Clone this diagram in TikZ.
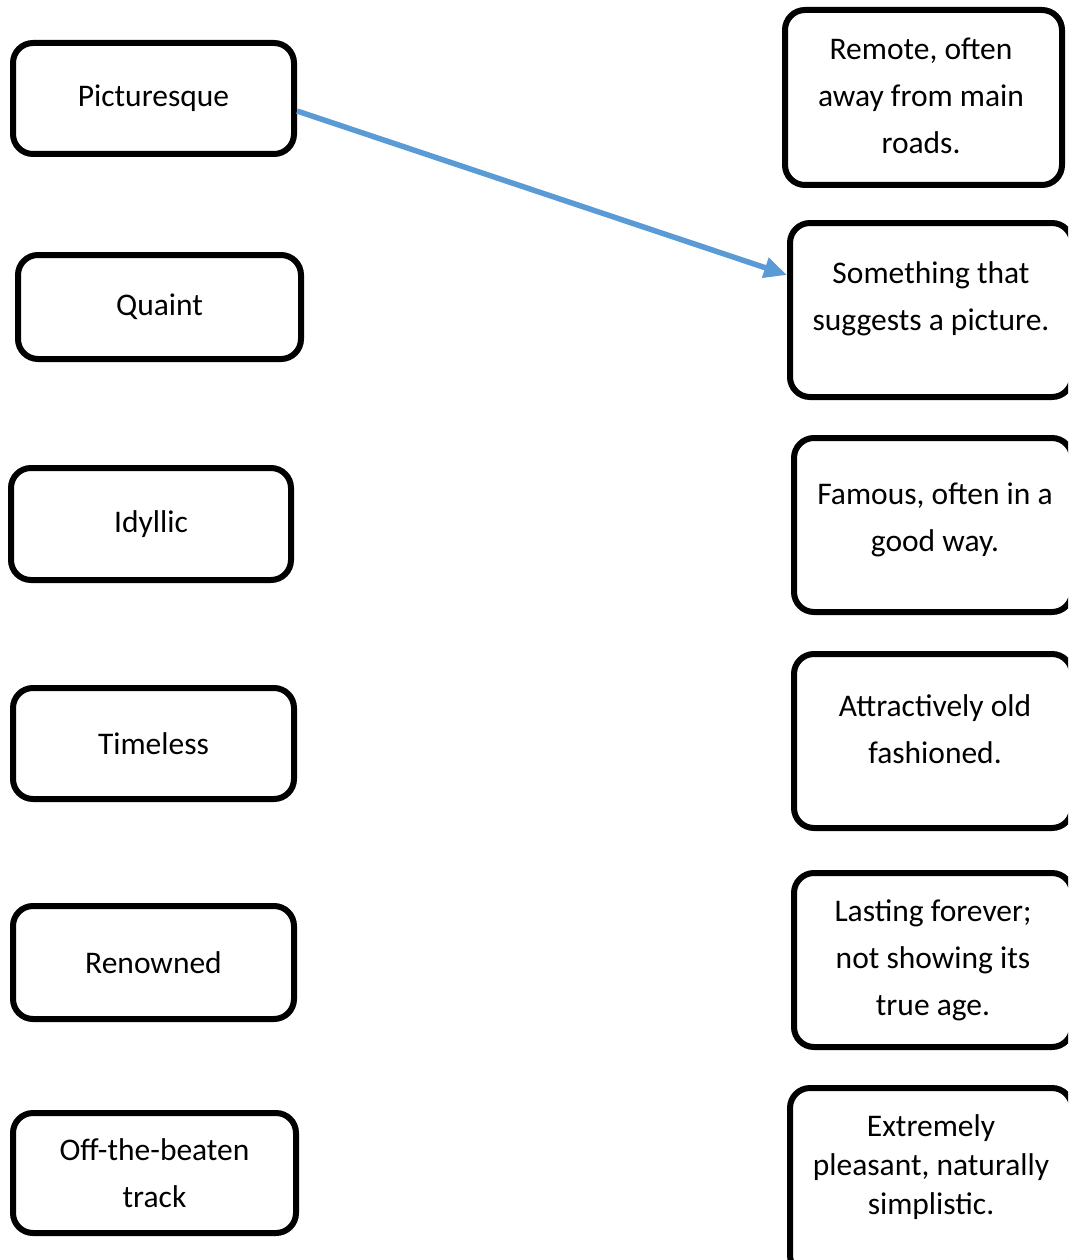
\documentclass[tikz,border=0pt]{standalone}
\usepackage{fontspec}
\setmainfont{Carlito}
\usetikzlibrary{arrows.meta,calc}
\definecolor{arrowblue}{HTML}{5B9BD5}
\tikzset{
  wordbox/.style={draw=black,line width=6pt,rounded corners=20pt,fill=white,inner sep=0pt,
    font=\fontsize{31.5}{47}\selectfont,align=center},
  deftext/.style={font=\fontsize{31.5}{47}\selectfont,align=center,inner sep=0pt},
  linkarrow/.style={draw=arrowblue,line width=5.5pt,-{Triangle[length=23pt,width=20pt]}}
}
\begin{document}
\begin{tikzpicture}[x=1pt,y=-1pt]
\useasboundingbox (0,0) rectangle (1068,1260);
\clip (0,0) rectangle (1068,1260);
% left boxes
\node[wordbox,minimum width=281pt,minimum height=111pt] (l1) at (153.5,98.5) {Picturesque};
\node[wordbox,minimum width=283pt,minimum height=104pt] (l2) at (159.5,307) {Quaint};
\node[wordbox,minimum width=280pt,minimum height=112pt] (l3) at (151,524) {Idyllic};
\node[wordbox,minimum width=281pt,minimum height=111pt] (l4) at (153.5,743.5) {Timeless};
\node[wordbox,minimum width=281pt,minimum height=113pt] (l5) at (153.5,962.5) {Renowned};
\node[wordbox,minimum width=283pt,minimum height=120pt] (l6) at (154.5,1173) {Off-the-beaten\\track};
% right boxes
\node[wordbox,minimum width=277pt,minimum height=175pt] (r1) at (923.5,97.5) {};
\node[wordbox,minimum width=282pt,minimum height=174pt] (r2) at (931,310) {};
\node[wordbox,minimum width=278pt,minimum height=174pt] (r3) at (933,525) {};
\node[wordbox,minimum width=278pt,minimum height=174pt] (r4) at (933,741) {};
\node[wordbox,minimum width=278pt,minimum height=174pt] (r5) at (933,960) {};
\node[wordbox,minimum width=282pt,minimum height=187pt] (r6) at (931,1181.5) {};
% right texts
\node[deftext] (t1) at (921,96) {Remote, often\\away from main\\roads.};
\node[deftext] (t2) at (931,299) {Something that\\suggests a picture.};
\node[deftext] (t3) at (935,520) {Famous, often in a\\good way.};
\node[deftext] (t4) at (935,729) {Attractively old\\fashioned.};
\node[deftext] (t5) at (933,960) {Lasting forever;\\not showing its\\true age.};
\node[deftext,font=\fontsize{31.5}{39}\selectfont] (t6) at (931,1167) {Extremely\\pleasant, naturally\\simplistic.};
% arrow
\draw[linkarrow] ($(l1.east)+(0,12.5)$) -- ($(r2.west)+(0,-35)$);
\end{tikzpicture}
\end{document}
